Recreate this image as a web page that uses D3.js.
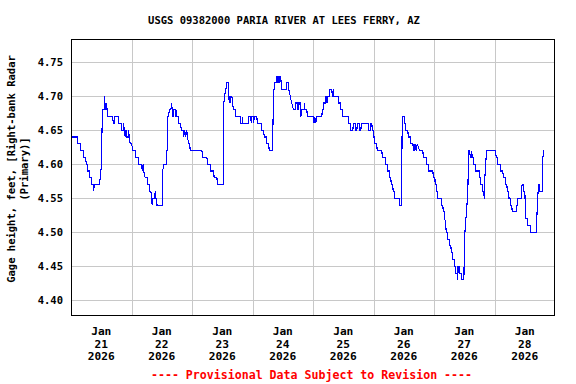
<!DOCTYPE html>
<html>
<head>
<meta charset="utf-8">
<script src="https://cdn.jsdelivr.net/npm/d3@7"></script>
<style>
  html, body { margin: 0; padding: 0; background: #fff; }
  svg { display: block; }
  text { font-family: "DejaVu Sans Mono", "Liberation Mono", monospace; font-weight: bold; }
</style>
</head>
<body>
<svg id="chart" width="576" height="384"></svg>
<script>
// ---- data (hours after 2026-01-21 00:00 local, gage height in feet) ----
const startDate = new Date(2026, 0, 21, 0, 0);
const hours = [
  0.2, 2.58, 2.66, 3.77, 3.85, 4.96, 5.08, 5.83, 6.03, 6.43, 6.62, 7.34, 7.46, 8.01, 8.21, 8.81, 9.0, 9.2,
  11.31, 11.58, 11.86, 12.1, 12.3, 12.5, 13.17, 13.29, 13.49, 13.69, 13.89, 14.08, 14.36, 14.68, 16.54, 16.74,
  17.14, 17.34, 18.72, 18.92, 20.03, 20.23, 20.71, 20.91, 21.1, 21.5, 21.82, 22.1, 22.69, 22.89, 23.09, 23.48,
  24.08, 24.48, 25.47, 25.79, 26.78, 26.98, 28.05, 28.25, 28.64, 28.84, 29.43, 30.23, 30.43, 31.14, 31.34, 31.7,
  31.93, 32.21, 32.41, 33.2, 33.4, 33.6, 34.0, 34.12, 36.3, 36.42, 36.7, 37.77, 37.88, 38.28, 38.4, 38.76,
  38.96, 39.63, 39.87, 40.15, 40.47, 40.75, 41.46, 41.58, 41.78, 42.01, 42.53, 42.73, 43.52, 43.72, 44.51, 44.71,
  45.11, 45.51, 45.9, 46.22, 46.69, 47.09, 47.29, 51.93, 52.25, 53.91, 54.15, 55.22, 55.5, 56.53, 56.81, 57.88,
  58.12, 60.5, 60.62, 60.9, 61.45, 61.77, 62.28, 62.48, 62.76, 62.96, 63.15, 63.43, 63.83, 64.07, 64.46, 65.14,
  65.33, 67.12, 67.24, 67.91, 68.03, 68.15, 70.3, 70.41, 71.29, 71.49, 71.68, 72.28, 72.48, 72.68, 73.75, 73.87,
  75.57, 75.73, 76.45, 76.64, 77.44, 77.63, 78.43, 78.62, 80.02, 80.13, 80.33, 80.6, 80.8, 81.4, 81.6, 81.8,
  82.08, 82.32, 82.6, 82.87, 83.11, 83.39, 83.67, 85.5, 85.65, 86.29, 86.41, 86.96, 87.55, 88.27, 88.94, 89.06,
  89.74, 89.86, 90.34, 90.46, 91.05, 91.2, 91.6, 92.51, 92.63, 92.83, 93.58, 93.7, 96.2, 96.4, 96.68, 97.08,
  97.47, 99.53, 99.65, 100.17, 100.29, 100.84, 101.04, 101.24, 101.44, 101.63, 101.75, 102.55, 102.67, 103.5, 103.62, 104.02,
  104.14, 104.3, 106.12, 106.24, 106.79, 106.91, 107.59, 107.78, 110.08, 110.28, 110.76, 110.96, 111.83, 111.95, 112.75, 112.87,
  113.42, 113.54, 114.34, 114.45, 115.0, 115.12, 118.02, 118.14, 118.69, 118.81, 119.37, 119.49, 120.0, 120.2, 120.48, 121.27,
  121.47, 123.33, 123.45, 124.64, 124.76, 125.55, 125.67, 126.35, 126.47, 126.9, 127.02, 127.62, 127.82, 128.21, 128.33, 130.32,
  130.51, 131.11, 131.23, 131.39, 132.18, 132.3, 132.7, 132.82, 133.65, 133.77, 134.56, 134.68, 135.63, 135.83, 136.03, 136.34,
  136.54, 136.94, 137.33, 138.25, 139.6, 139.72, 140.91, 141.03, 141.9, 142.02, 143.57, 143.69, 144.36, 144.48, 144.88, 145.0,
  145.39, 145.51, 146.86, 146.98, 147.53, 147.65, 148.17, 148.29, 148.69, 148.85, 149.36, 149.52, 150.04, 150.16, 150.71, 150.83,
  151.42, 151.54, 152.1, 152.22, 152.53, 152.65, 153.21, 153.33, 153.52, 153.72, 153.92, 154.08, 154.8, 154.92, 155.87, 155.99,
  156.27, 156.66, 157.06, 157.3, 157.42, 157.58, 157.81, 158.17, 158.37, 158.76, 158.96, 159.16, 159.68, 159.8, 160.47, 160.59,
  161.15, 161.87, 161.99, 162.5, 162.62, 163.18, 163.3, 163.77, 163.89, 164.05, 164.17, 164.49, 164.88, 168.45, 168.65, 169.13,
  169.32, 170.43, 170.59, 171.31, 171.51, 172.3, 172.46, 172.9, 173.1, 173.61, 173.77, 174.17, 174.29, 174.88, 175.0, 176.55,
  176.67, 177.07, 177.19, 178.54, 178.66, 178.93, 179.45, 179.57, 180.05, 180.25, 180.44, 181.16, 181.28, 182.23, 182.35, 184.49,
  184.69, 184.89, 185.29, 185.6, 185.8, 186.0, 187.07, 187.19, 187.51, 187.67
];
const gageHeight = [
  4.64, 4.64, 4.63, 4.63, 4.62, 4.62, 4.61, 4.61, 4.60, 4.60, 4.59, 4.59, 4.58, 4.58, 4.57, 4.57, 4.56, 4.57,
  4.57, 4.58, 4.59, 4.60, 4.65, 4.68, 4.68, 4.70, 4.68, 4.69, 4.68, 4.69, 4.68, 4.67, 4.67, 4.66,
  4.66, 4.67, 4.67, 4.66, 4.66, 4.65, 4.65, 4.66, 4.65, 4.64, 4.65, 4.64, 4.64, 4.65, 4.64, 4.63,
  4.63, 4.62, 4.62, 4.61, 4.61, 4.60, 4.60, 4.59, 4.60, 4.59, 4.58, 4.58, 4.57, 4.57, 4.56, 4.56,
  4.55, 4.54, 4.55, 4.55, 4.56, 4.55, 4.55, 4.54, 4.54, 4.59, 4.60, 4.60, 4.62, 4.62, 4.67, 4.67,
  4.68, 4.68, 4.69, 4.68, 4.67, 4.68, 4.68, 4.67, 4.68, 4.67, 4.67, 4.66, 4.66, 4.65, 4.65, 4.64,
  4.65, 4.64, 4.65, 4.64, 4.63, 4.63, 4.62, 4.62, 4.61, 4.61, 4.60, 4.60, 4.59, 4.59, 4.58, 4.58,
  4.57, 4.57, 4.69, 4.70, 4.71, 4.72, 4.72, 4.71, 4.69, 4.70, 4.69, 4.70, 4.70, 4.69, 4.68, 4.68,
  4.67, 4.67, 4.66, 4.66, 4.67, 4.66, 4.66, 4.67, 4.67, 4.66, 4.67, 4.67, 4.66, 4.67, 4.67, 4.66,
  4.66, 4.65, 4.65, 4.64, 4.64, 4.63, 4.63, 4.62, 4.62, 4.66, 4.71, 4.71, 4.72, 4.72, 4.73, 4.72,
  4.73, 4.72, 4.73, 4.72, 4.73, 4.72, 4.71, 4.71, 4.72, 4.72, 4.71, 4.70, 4.69, 4.68, 4.68, 4.69,
  4.69, 4.68, 4.68, 4.69, 4.69, 4.67, 4.68, 4.68, 4.69, 4.68, 4.68, 4.67, 4.67, 4.66, 4.67, 4.66,
  4.67, 4.67, 4.68, 4.68, 4.69, 4.69, 4.70, 4.69, 4.70, 4.69, 4.70, 4.70, 4.71, 4.71, 4.70, 4.70,
  4.71, 4.70, 4.70, 4.69, 4.69, 4.68, 4.68, 4.67, 4.67, 4.66, 4.66, 4.65, 4.65, 4.66, 4.66, 4.65,
  4.65, 4.66, 4.66, 4.65, 4.65, 4.66, 4.66, 4.65, 4.65, 4.66, 4.66, 4.65, 4.65, 4.64, 4.63, 4.63,
  4.62, 4.62, 4.61, 4.61, 4.60, 4.60, 4.59, 4.59, 4.58, 4.58, 4.57, 4.57, 4.56, 4.56, 4.55, 4.55,
  4.54, 4.54, 4.59, 4.67, 4.67, 4.66, 4.66, 4.65, 4.65, 4.64, 4.64, 4.63, 4.63, 4.62, 4.63, 4.62,
  4.63, 4.62, 4.63, 4.62, 4.62, 4.61, 4.61, 4.60, 4.60, 4.59, 4.59, 4.58, 4.58, 4.57, 4.57, 4.56,
  4.56, 4.55, 4.55, 4.54, 4.54, 4.53, 4.53, 4.52, 4.51, 4.50, 4.50, 4.49, 4.49, 4.48, 4.48, 4.47,
  4.47, 4.46, 4.46, 4.45, 4.45, 4.44, 4.44, 4.43, 4.45, 4.44, 4.45, 4.44, 4.44, 4.43, 4.43, 4.47,
  4.50, 4.52, 4.54, 4.55, 4.56, 4.59, 4.62, 4.62, 4.61, 4.61, 4.62, 4.61, 4.61, 4.60, 4.60, 4.59,
  4.59, 4.59, 4.58, 4.58, 4.57, 4.57, 4.56, 4.56, 4.55, 4.55, 4.58, 4.60, 4.62, 4.62, 4.61, 4.61,
  4.60, 4.60, 4.59, 4.59, 4.58, 4.58, 4.57, 4.57, 4.56, 4.56, 4.55, 4.55, 4.54, 4.54, 4.53, 4.53,
  4.54, 4.54, 4.55, 4.55, 4.56, 4.57, 4.57, 4.56, 4.56, 4.53, 4.52, 4.52, 4.51, 4.51, 4.50, 4.50,
  4.51, 4.53, 4.56, 4.57, 4.57, 4.56, 4.56, 4.61, 4.62, 4.62
];
const yTicks = [4.40, 4.45, 4.50, 4.55, 4.60, 4.65, 4.70, 4.75];
const dayLabels = [
  ["Jan", "21", "2026"], ["Jan", "22", "2026"], ["Jan", "23", "2026"], ["Jan", "24", "2026"],
  ["Jan", "25", "2026"], ["Jan", "26", "2026"], ["Jan", "27", "2026"], ["Jan", "28", "2026"]
];
const titleText = "USGS 09382000 PARIA RIVER AT LEES FERRY, AZ";
const yLabelLines = ["Gage height, feet, [Right-bank Radar", "(Primary)]"];
const footerText = "---- Provisional Data Subject to Revision ----";

// ---- layout ----
const svg = d3.select("#chart");
const L = 71, R = 555, T = 39, B = 316;
const dayMs = 24 * 3600 * 1000;
const endDate = new Date(startDate.getTime() + 8 * dayMs);

const x = d3.scaleTime().domain([startDate, endDate]).range([L, R]);
const y = d3.scaleLinear().domain([4.377, 4.784]).range([B, T]);

const data = hours.map((h, i) => ({ t: new Date(startDate.getTime() + h * 3600 * 1000), v: gageHeight[i] }));

// gridlines
const dayTicks = d3.range(1, 8).map(d => new Date(startDate.getTime() + d * dayMs));
svg.append("g")
  .attr("transform", `translate(0,${B})`)
  .call(d3.axisBottom(x).tickValues(dayTicks).tickSize(-(B - T)).tickFormat(""))
  .call(g => g.select(".domain").remove())
  .call(g => g.selectAll("line").attr("stroke", "#c8c8c8").attr("stroke-width", 1).attr("shape-rendering", "crispEdges"));

svg.append("g")
  .attr("transform", `translate(${L},0)`)
  .call(d3.axisLeft(y).tickValues(yTicks).tickSize(-(R - L)).tickFormat(""))
  .call(g => g.select(".domain").remove())
  .call(g => g.selectAll("line").attr("stroke", "#c8c8c8").attr("stroke-width", 1).attr("shape-rendering", "crispEdges"));

// y tick labels
svg.append("g")
  .attr("transform", `translate(${L},0)`)
  .call(d3.axisLeft(y).tickValues(yTicks).tickSize(0).tickPadding(8).tickFormat(d3.format(".2f")))
  .call(g => g.select(".domain").remove())
  .call(g => g.selectAll("text")
    .attr("fill", "#000")
    .style("font-family", '"DejaVu Sans Mono", monospace')
    .style("font-weight", "bold")
    .style("font-size", "10.5px"));

// x tick labels (centered at noon)
const labelG = svg.append("g");
dayLabels.forEach((lines, i) => {
  const cx = x(new Date(startDate.getTime() + (i + 0.5) * dayMs));
  const t = labelG.append("text")
    .attr("x", cx).attr("text-anchor", "middle")
    .style("font-size", "11.2px").attr("fill", "#000");
  lines.forEach((s, j) => {
    t.append("tspan").attr("x", cx).attr("y", 335 + j * 12.6).text(s);
  });
});

// line
svg.append("path")
  .datum(data)
  .attr("fill", "none")
  .attr("stroke", "#0000ff")
  .attr("stroke-width", 1.1)
  .attr("shape-rendering", "crispEdges")
  .attr("d", d3.line().x(d => x(d.t)).y(d => y(d.v)));

// frame
svg.append("rect")
  .attr("x", L + 0.5).attr("y", T + 0.5)
  .attr("width", R - L - 1).attr("height", B - T - 1)
  .attr("fill", "none").attr("stroke", "#000").attr("stroke-width", 1)
  .attr("shape-rendering", "crispEdges");

// title
svg.append("text")
  .attr("x", 284).attr("y", 24).attr("text-anchor", "middle")
  .style("font-size", "10.5px").attr("fill", "#000")
  .text(titleText);

// y-axis label
const yl = svg.append("text")
  .attr("transform", `translate(0,169) rotate(-90)`)
  .attr("text-anchor", "middle")
  .style("font-size", "10.5px").attr("fill", "#000");
yLabelLines.forEach((s, j) => {
  yl.append("tspan").attr("x", 0).attr("y", 15 + j * 12.5).text(s);
});

// footer
svg.append("text")
  .attr("x", 311.5).attr("y", 379).attr("text-anchor", "middle")
  .style("font-size", "11.6px").attr("fill", "#ff0000")
  .text(footerText);
</script>
</body>
</html>
